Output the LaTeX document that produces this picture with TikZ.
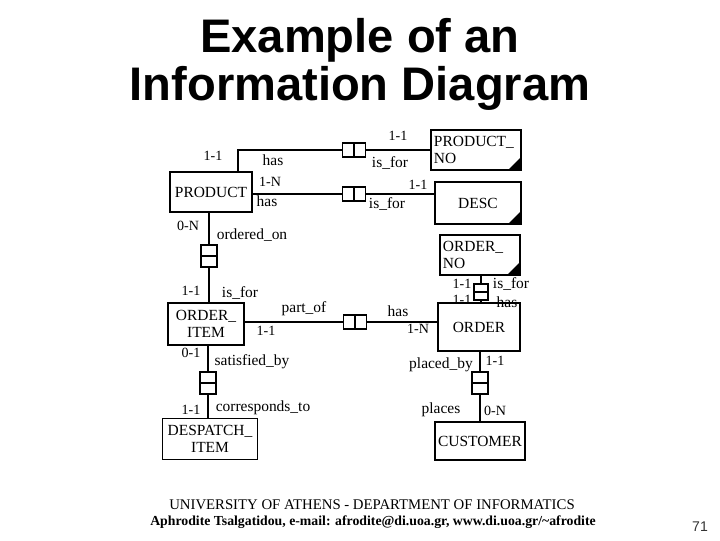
\documentclass[tikz,border=0pt]{standalone}
\usepackage{fontspec}
\setmainfont{Liberation Serif}
\newfontfamily\titlefont{Liberation Sans}
\usetikzlibrary{positioning,calc}
\tikzset{
  ent/.style={rectangle,draw,line width=1.3pt,inner sep=2pt,
              font=\fontsize{11}{12}\selectfont},
  keyent/.style={ent,align=left,text width=#1,
              path picture={\fill (path picture bounding box.south east)
                -- ++(-0.32cm,0) -- ++(0.32cm,0.32cm) -- cycle;}},
  hrel/.style={rectangle,draw,line width=1.1pt,minimum width=0.575cm,minimum height=0.35cm,
              inner sep=0pt,path picture={\draw[line width=1.1pt] (path picture bounding box.north)
                -- (path picture bounding box.south);}},
  vrel/.style={rectangle,draw,line width=1.1pt,minimum width=0.4cm,minimum height=0.55cm,
              inner sep=0pt,path picture={\draw[line width=1.1pt] (path picture bounding box.west)
                -- (path picture bounding box.east);}},
  link/.style={line width=1.1pt},
  lbl/.style={inner sep=0pt,font=\fontsize{11}{12}\selectfont},
  card/.style={inner sep=0pt,font=\fontsize{10}{12}\selectfont},
}
\begin{document}
\begin{tikzpicture}[x=0.025cm,y=-0.025cm]
\useasboundingbox[fill=white] (0,0) rectangle (720,540);

\node[anchor=base,font=\titlefont\bfseries\fontsize{33.5}{34}\selectfont] (title1) at (360,52) {Example of an};
\node[anchor=base,font=\titlefont\bfseries\fontsize{33.5}{34}\selectfont] (title2) at (360,100) {Information Diagram};

% entities
\node[ent,minimum width=2.05cm,minimum height=1cm] (product) at (211,192) {PRODUCT};
\node[keyent=2.1cm,minimum height=1cm] (pno) at (476,150) {PRODUCT\_\\NO};
\node[keyent=2.0cm,minimum height=1.05cm,align=center] (desc) at (478,203) {DESC};
\node[ent,minimum width=1.9cm,minimum height=1.05cm,align=center] (oi) at (206,324) {ORDER\_\\ITEM};
\node[keyent=1.85cm,minimum height=1cm] (ono) at (480,255) {ORDER\_\\NO};
\node[ent,minimum width=2.05cm,minimum height=1.2cm] (order) at (479,327) {ORDER};
\node[ent,minimum width=2.25cm,minimum height=0.95cm] (cust) at (480,441) {CUSTOMER};
\node[ent,minimum width=2.375cm,minimum height=1.025cm,align=center] (di) at (210,439) {DESPATCH\_\\ITEM};

% relationships
\node[hrel] (hr1) at (354,150) {};
\node[hrel] (hr2) at (354,194) {};
\node[hrel] (hr3) at (355,322) {};
\node[vrel] (vr1) at (209,256) {};
\node[vrel,minimum width=0.35cm,minimum height=0.4cm] (vr2) at (481,292) {};
\node[vrel] (vr3) at (480,383) {};
\node[vrel] (vr4) at (208,383) {};

% links
\draw[link] ([xshift=0.675cm]product.north) |- (hr1.west);
\draw[link] (hr1.east) -- (pno.west);
\draw[link] (product.east |- hr2) -- (hr2.west);
\draw[link] (hr2.east) -- (hr2.east -| desc.west);
\draw[link] (vr1.north) -- (vr1.north |- product.south);
\draw[link] (vr1.south) -- (vr1.south |- oi.north);
\draw[link] (oi.east |- hr3) -- (hr3.west);
\draw[link] (hr3.east) -- (hr3.east -| order.west);
\draw[link] (vr2.north) -- (vr2.north |- ono.south);
\draw[link] (vr2.south) -- (vr2.south |- order.north);
\draw[link] (vr3.north) -- (vr3.north |- order.south);
\draw[link] (vr3.south) -- (vr3.south |- cust.north);
\draw[link] (vr4.north) -- (vr4.north |- oi.south);
\draw[link] (vr4.south) -- (vr4.south |- di.north);

% labels
\node[card] (c1) at (213,156) {1-1};
\node[lbl] (l1) at (273,160) {has};
\node[card] (c2) at (398,136) {1-1};
\node[lbl] (l2) at (390,163) {is\_for};
\node[card] (c3) at (270,182) {1-N};
\node[lbl] (l3) at (267,201) {has};
\node[card] (c4) at (418,185) {1-1};
\node[lbl] (l4) at (387,204) {is\_for};
\node[card] (c5) at (188,226) {0-N};
\node[lbl] (l5) at (252,235) {ordered\_on};
\node[card] (c6) at (191,291) {1-1};
\node[lbl] (l6) at (240,293) {is\_for};
\node[lbl] (l7) at (304,309) {part\_of};
\node[card] (c7) at (266,331) {1-1};
\node[lbl] (l8) at (398,311) {has};
\node[card] (c8) at (418,329) {1-N};
\node[card] (c9) at (462,284) {1-1};
\node[lbl] (l9) at (511,284) {is\_for};
\node[card] (c10) at (462,300) {1-1};
\node[lbl] (l10) at (507,302) {has};
\node[lbl] (l11) at (441,365) {placed\_by};
\node[card] (c11) at (495,361) {1-1};
\node[lbl] (l12) at (441,410) {places};
\node[card] (c12) at (495,411) {0-N};
\node[card] (c13) at (191,353) {0-1};
\node[lbl] (l13) at (252,362) {satisfied\_by};
\node[card] (c14) at (191,410) {1-1};
\node[lbl] (l14) at (263,408) {corresponds\_to};

% footer
\node[font=\fontsize{10.5}{12}\selectfont] (uni) at (372,505) {UNIVERSITY OF ATHENS - DEPARTMENT OF INFORMATICS};
\node[font=\bfseries\fontsize{9.8}{11}\selectfont] (auth) at (373,522) {Aphrodite Tsalgatidou, e-mail: afrodite@di.uoa.gr, www.di.uoa.gr/\textasciitilde afrodite};
\node[font=\titlefont\fontsize{10}{12}\selectfont,text=black!80] (page) at (700,527) {71};
\end{tikzpicture}
\end{document}
